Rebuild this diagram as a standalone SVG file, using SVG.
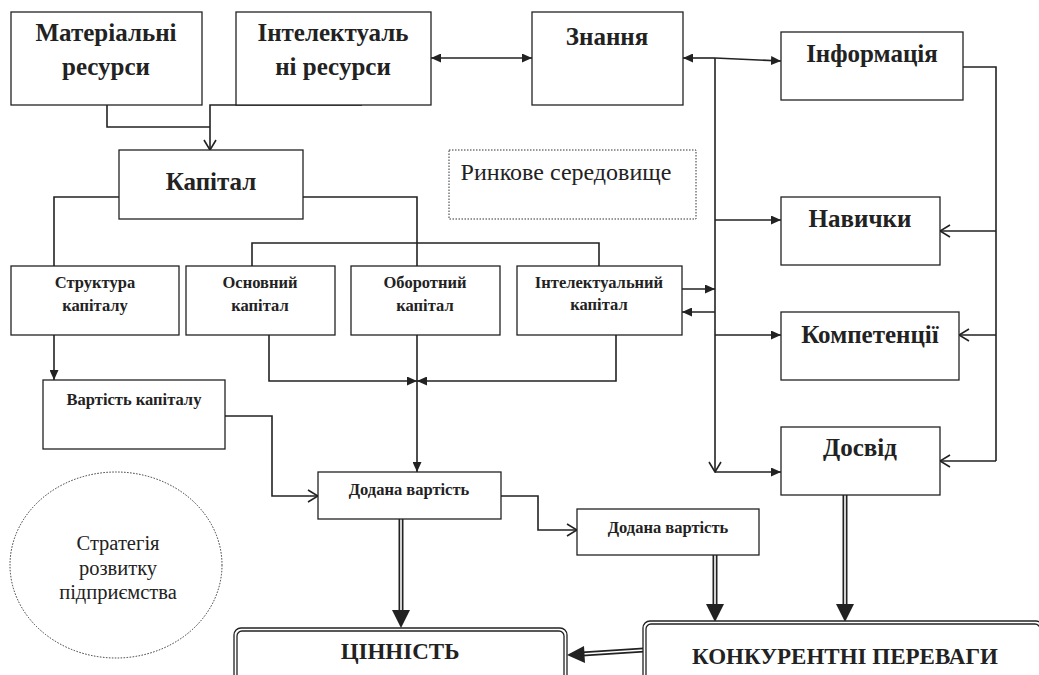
<svg xmlns="http://www.w3.org/2000/svg" width="1039" height="675" viewBox="0 0 1039 675">
<style>
.box{fill:#fff;stroke:#222;stroke-width:1.3}
.c{fill:none;stroke:#222;stroke-width:1.6}
.dot{fill:none;stroke:#333;stroke-width:1;stroke-dasharray:1.5 1.5}
.t{font-family:"Liberation Serif",serif;fill:#222;text-anchor:middle}
.b{font-weight:bold}
.s20{font-size:25px}
.s15{font-size:16.5px}
.s22{font-size:23px}
.sm{font-size:24px}
.sc{font-size:20.5px}
.dl{fill:none;stroke:#222;stroke-width:5}
.dw{fill:none;stroke:#fff;stroke-width:1.6}
.ah{fill:#222;stroke:none}
</style>
<defs>
<marker id="f" markerUnits="userSpaceOnUse" markerWidth="11" markerHeight="9" refX="10" refY="4.5" orient="auto-start-reverse"><path d="M0,0 L10,4.5 L0,9 z" fill="#222"/></marker>
<marker id="o" markerUnits="userSpaceOnUse" markerWidth="12" markerHeight="14" refX="11" refY="7" orient="auto"><path d="M1,1 L11,7 L1,13" fill="none" stroke="#222" stroke-width="1.6"/></marker>
</defs>

<g id="connectors">
<path class="c" d="M107,105 V127 H210"/>
<path class="c" d="M362,105 H210 V150" marker-end="url(#o)"/>
<path class="c" d="M431,58 H532" marker-start="url(#f)" marker-end="url(#f)"/>
<path class="c" d="M715,58 H683" marker-end="url(#f)"/>
<path class="c" d="M715,58 L781,61" marker-end="url(#f)"/>
<path class="c" d="M715,58 V472" marker-end="url(#o)"/>
<path class="c" d="M715,472 H781" marker-end="url(#f)"/>
<path class="c" d="M715,220 H781" marker-end="url(#f)"/>
<path class="c" d="M715,335 H781" marker-end="url(#f)"/>
<path class="c" d="M682,289 H715" marker-end="url(#f)"/>
<path class="c" d="M715,312 H682" marker-end="url(#f)"/>
<path class="c" d="M963,67 H996 V461"/>
<path class="c" d="M996,231 H940" marker-end="url(#o)"/>
<path class="c" d="M996,335 H959" marker-end="url(#o)"/>
<path class="c" d="M996,461 H940" marker-end="url(#o)"/>
<path class="c" d="M119,197 H54 V266"/>
<path class="c" d="M303,197 H417 V266"/>
<path class="c" d="M252,266 V243 H599 V266"/>
<path class="c" d="M54,335 V380" marker-end="url(#f)"/>
<path class="c" d="M269,335 V381 H417" marker-end="url(#f)"/>
<path class="c" d="M616,335 V381 H417" marker-end="url(#f)"/>
<path class="c" d="M417,335 V472" marker-end="url(#f)"/>
<path class="c" d="M225,416 H272 V496 H318" marker-end="url(#o)"/>
<path class="c" d="M501,496 H538 V530 H577" marker-end="url(#o)"/>
<path class="dl" d="M401,519 V612"/><path class="dw" d="M401,519 V612"/>
<polygon class="ah" points="392,610 410,610 401,628"/>
<path class="dl" d="M715,555 V606"/><path class="dw" d="M715,555 V606"/>
<polygon class="ah" points="706,604 724,604 715,622"/>
<path class="dl" d="M845,495 V606"/><path class="dw" d="M845,495 V606"/>
<polygon class="ah" points="836,604 854,604 845,622"/>
<path class="dl" d="M644,650 L582,654"/><path class="dw" d="M644,650 L582,654"/>
<polygon class="ah" points="584,646 585,663 567,655"/>
</g>

<g id="n-material"><rect class="box" x="11" y="12" width="191" height="93"/>
<text class="t b s20" x="106" y="41">Матеріальні</text><text class="t b s20" x="106" y="75">ресурси</text></g>
<g id="n-intres"><rect class="box" x="236" y="12" width="195" height="93"/>
<text class="t b s20" x="333" y="41">Інтелектуаль</text><text class="t b s20" x="333" y="75">ні ресурси</text></g>
<g id="n-knowledge"><rect class="box" x="532" y="12" width="151" height="93"/>
<text class="t b s20" x="607" y="45">Знання</text></g>
<g id="n-info"><rect class="box" x="781" y="32" width="182" height="68"/>
<text class="t b s20" x="872" y="62">Інформація</text></g>
<g id="n-capital"><rect class="box" x="119" y="150" width="184" height="69"/>
<text class="t b s20" x="211" y="190">Капітал</text></g>
<g id="n-market"><rect class="dot" x="449" y="150" width="247" height="69"/>
<text class="t sm" x="566" y="180">Ринкове середовище</text></g>
<g id="n-skills"><rect class="box" x="781" y="197" width="159" height="68"/>
<text class="t b s20" x="860" y="227">Навички</text></g>
<g id="n-struct"><rect class="box" x="11" y="266" width="168" height="69"/>
<text class="t b s15" x="95" y="288">Структура</text><text class="t b s15" x="95" y="311">капіталу</text></g>
<g id="n-fixed"><rect class="box" x="186" y="266" width="149" height="69"/>
<text class="t b s15" x="260" y="288">Основний</text><text class="t b s15" x="260" y="311">капітал</text></g>
<g id="n-working"><rect class="box" x="351" y="266" width="149" height="69"/>
<text class="t b s15" x="425" y="288">Оборотний</text><text class="t b s15" x="425" y="311">капітал</text></g>
<g id="n-intcap"><rect class="box" x="517" y="266" width="165" height="69"/>
<text class="t b s15" x="599" y="288">Інтелектуальний</text><text class="t b s15" x="599" y="310">капітал</text></g>
<g id="n-comp"><rect class="box" x="781" y="312" width="178" height="68"/>
<text class="t b s20" x="870" y="343">Компетенції</text></g>
<g id="n-costcap"><rect class="box" x="43" y="380" width="182" height="69"/>
<text class="t b s15" x="134" y="405">Вартість капіталу</text></g>
<g id="n-exp"><rect class="box" x="781" y="427" width="159" height="68"/>
<text class="t b s20" x="860" y="456">Досвід</text></g>
<g id="n-added1"><rect class="box" x="318" y="472" width="183" height="47"/>
<text class="t b s15" x="409" y="495">Додана вартість</text></g>
<g id="n-added2"><rect class="box" x="577" y="509" width="182" height="46"/>
<text class="t b s15" x="668" y="533">Додана вартість</text></g>
<g id="n-strategy"><ellipse class="dot" cx="116" cy="565" rx="106" ry="93"/>
<text class="t sc" x="118" y="550">Стратегія</text><text class="t sc" x="118" y="575">розвитку</text><text class="t sc" x="118" y="599">підприємства</text></g>
<g id="n-value"><rect class="box" x="234" y="628" width="333" height="80" rx="7"/>
<rect class="box" x="237" y="631" width="327" height="74" rx="5"/>
<text class="t b s22" x="400" y="659">ЦІННІСТЬ</text></g>
<g id="n-compadv"><rect class="box" x="643" y="621" width="400" height="80" rx="7"/>
<rect class="box" x="646" y="624" width="394" height="74" rx="5"/>
<text class="t b s22" x="845" y="664">КОНКУРЕНТНІ ПЕРЕВАГИ</text></g>
</svg>
